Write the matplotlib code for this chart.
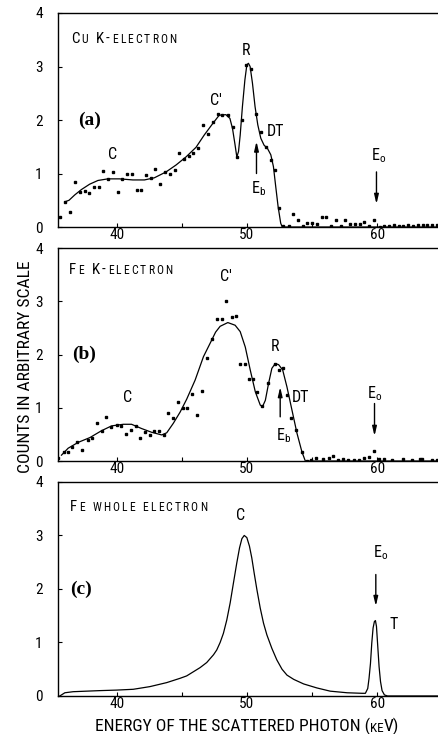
import numpy as np
import matplotlib
matplotlib.use("Agg")
import matplotlib.pyplot as plt

FONT = ["Roboto Condensed", "DejaVu Sans"]
plt.rcParams["font.family"] = FONT
plt.rcParams["mathtext.fontset"] = "custom"
plt.rcParams["mathtext.rm"] = "Roboto Condensed"
plt.rcParams["mathtext.it"] = "Roboto Condensed"

# ---- panel (a): Cu K-electron ----
a_curve_x = [36.02, 36.35, 36.79, 37.3, 37.93, 38.57, 39.33, 40.23, 41.25, 42.14, 42.9,
             43.8, 44.57, 45.33, 46.1, 46.73, 47.37, 47.88, 48.39, 48.7, 48.9, 49.08,
             49.23, 49.36, 49.49, 49.66, 49.85, 50.0, 50.12, 50.25, 50.43, 50.63, 50.84,
             51.07, 51.32, 51.58, 51.84, 52.04, 52.22, 52.4, 52.6, 52.72, 65.0]
a_curve_y = [0.47, 0.50, 0.60, 0.70, 0.80, 0.87, 0.90, 0.90, 0.88, 0.88, 0.92,
             1.03, 1.16, 1.31, 1.49, 1.72, 1.93, 2.09, 2.10, 2.03, 1.84, 1.56,
             1.31, 1.41, 1.72, 2.25, 2.75, 3.03, 3.06, 3.00, 2.69, 2.25, 1.91,
             1.66, 1.53, 1.47, 1.35, 1.13, 0.75, 0.38, 0.07, 0.0, 0.0]
a_pts_x = [35.64, 36.07, 36.46, 36.84, 37.22, 37.55, 37.88, 38.26, 38.62, 38.98, 39.36,
           39.72, 40.08, 40.44, 40.79, 41.15, 41.55, 41.91, 42.27, 42.62, 42.98, 43.37,
           43.73, 44.08, 44.46, 44.82, 45.18, 45.53, 45.89, 46.27, 46.66, 47.04, 47.4,
           47.8, 48.13, 48.52, 48.9, 49.28, 49.62, 49.92, 50.33, 50.73, 51.07, 51.45,
           51.84, 52.14, 52.47, 52.8, 53.2, 53.57, 53.93, 54.3, 54.64, 55.0, 55.36,
           55.74, 56.1, 56.45, 56.86, 57.23, 57.56, 57.95, 58.3, 58.65, 59.0, 59.37,
           59.79, 60.2, 60.55, 60.9, 61.3, 61.65, 62.0, 62.4, 62.75, 63.1, 63.5, 63.85,
           64.2, 64.6]
a_pts_y = [0.19, 0.47, 0.29, 0.85, 0.66, 0.68, 0.63, 0.74, 0.74, 1.05, 0.89,
           1.02, 0.66, 0.90, 1.00, 1.00, 0.69, 0.69, 0.97, 0.92, 1.08, 0.80,
           1.02, 0.99, 1.07, 1.38, 1.28, 1.33, 1.39, 1.48, 1.91, 1.74, 1.97,
           2.12, 2.09, 2.09, 1.87, 1.31, 2.00, 3.02, 2.95, 2.12, 1.78, 1.49,
           1.25, 1.07, 0.36, 0.02, 0.02, 0.24, 0.13, 0.02, 0.08, 0.08, 0.05,
           0.19, 0.18, 0.02, 0.13, 0.02, 0.13, 0.06, 0.06, 0.06, 0.10, 0.02,
           0.14, 0.0, 0.02, 0.01, 0.04, 0.02, 0.01, 0.03, 0.02, 0.03, 0.04, 0.04,
           0.03, 0.04]

# ---- panel (b): Fe K-electron ----
b_curve_x = [35.77, 36.28, 37.05, 37.95, 38.85, 39.62, 40.52, 41.15, 41.92, 42.69, 43.46,
             43.85, 44.36, 44.88, 45.38, 46.03, 46.67, 47.3, 47.6, 47.95, 48.54, 49.1,
             49.49, 49.88, 50.26, 50.65, 51.03, 51.2, 51.42, 51.67, 51.92, 52.18, 52.44,
             52.75, 53.08, 53.46, 53.85, 54.23, 54.49, 65.0]
b_curve_y = [0.11, 0.24, 0.35, 0.44, 0.57, 0.66, 0.69, 0.69, 0.61, 0.54, 0.49,
             0.53, 0.71, 0.92, 1.16, 1.52, 1.96, 2.27, 2.42, 2.53, 2.60, 2.55,
             2.43, 2.14, 1.71, 1.30, 1.05, 1.02, 1.14, 1.46, 1.74, 1.83, 1.81,
             1.71, 1.39, 0.96, 0.52, 0.17, 0.0, 0.0]
b_pts_x = [35.5, 36.0, 36.28, 36.6, 37.0, 37.36, 37.77, 38.15, 38.5, 38.9, 39.2, 39.6,
           40.0, 40.33, 40.7, 41.08, 41.46, 41.8, 42.18, 42.56, 42.9, 43.26, 43.64,
           43.97, 44.36, 44.74, 45.08, 45.44, 45.77, 46.15, 46.54, 46.92, 47.3, 47.7,
           48.06, 48.42, 48.85, 49.18, 49.49, 49.87, 50.2, 50.46, 50.8, 51.15, 51.6,
           52.13, 52.44, 52.77, 53.1, 53.42, 53.8, 54.23, 54.6, 54.95, 55.3, 55.85,
           56.3, 56.6, 57.0, 57.4, 57.8, 58.2, 58.6, 58.98, 59.37, 59.75, 60.13, 60.5,
           61.15, 61.97, 62.7, 63.3, 63.45, 64.2, 64.6]
b_pts_y = [0.05, 0.17, 0.17, 0.27, 0.36, 0.21, 0.39, 0.44, 0.71, 0.57, 0.82, 0.63,
           0.68, 0.66, 0.50, 0.58, 0.66, 0.44, 0.55, 0.49, 0.57, 0.57, 0.48,
           0.91, 0.80, 1.10, 0.99, 0.99, 1.26, 0.86, 1.32, 1.93, 2.30, 2.67,
           2.67, 3.00, 2.71, 2.73, 1.82, 1.82, 1.54, 1.54, 1.30, 1.04, 1.46,
           1.82, 1.71, 1.74, 1.24, 0.80, 0.59, 0.17, 0.0, 0.02, 0.05, 0.03,
           0.05, 0.10, 0.02, 0.03, 0.02, 0.01, 0.01, 0.05, 0.08, 0.19, 0.03, 0.03,
           0.02, 0.03, 0.02, 0.04, 0.04, 0.02, 0.02]

# ---- panel (c): Fe whole electron ----
c_curve_x = [35.64, 36.03, 36.67, 38.7, 40.0, 41.28, 42.56, 43.85, 44.87, 45.38, 46.41,
             46.92, 47.44, 47.69, 47.95, 48.2, 48.46, 48.72, 48.97, 49.23, 49.44, 49.62,
             49.8, 50.0, 50.2, 50.38, 50.56, 50.77, 51.03, 51.28, 51.54, 51.92, 52.3,
             52.7, 53.08, 53.6, 54.36, 55.38, 56.4, 57.7, 58.85, 59.1, 59.28, 59.38,
             59.49, 59.59, 59.69, 59.79, 59.87, 59.95, 60.05, 60.15, 60.26, 60.38, 60.56,
             60.8, 65.0]
c_curve_y = [0.0, 0.06, 0.08, 0.10, 0.11, 0.125, 0.175, 0.25, 0.33, 0.375, 0.53,
             0.625, 0.77, 0.86, 1.0, 1.17, 1.42, 1.74, 2.11, 2.49, 2.77, 2.94,
             3.0, 2.96, 2.80, 2.58, 2.30, 1.99, 1.64, 1.36, 1.14, 0.89, 0.675,
             0.50, 0.39, 0.31, 0.225, 0.15, 0.09, 0.06, 0.05, 0.05, 0.14, 0.33,
             0.61, 0.99, 1.27, 1.39, 1.41, 1.30, 0.925, 0.55, 0.27, 0.10, 0.02,
             0.0, 0.0]

x_ticks = [40, 45, 50, 55, 60]
x_ticklabels = ["40", "", "50", "", "60"]
y_ticks = [0, 1, 2, 3, 4]

fig = plt.figure(figsize=(4.39, 7.34), dpi=100)
L, W = 0.132, 0.868
ax_a = fig.add_axes([L, 0.6907, W, 0.2916])
ax_b = fig.add_axes([L, 0.3719, W, 0.2902])
ax_c = fig.add_axes([L, 0.0518, W, 0.2916])

TICK_FS = 11
LAB_FS = 11.5
BIG, SMALL = 10.8, 8.4


def style(ax):
    ax.set_xlim(35.5, 64.75)
    ax.set_ylim(0, 4)
    ax.set_xticks(x_ticks)
    ax.set_xticklabels(x_ticklabels)
    ax.set_yticks(y_ticks)
    ax.tick_params(direction="in", length=3, width=0.8, labelsize=TICK_FS, pad=1)
    ax.tick_params(axis="y", pad=11)
    ax.spines["right"].set_visible(False)
    for s in ["left", "bottom", "top"]:
        ax.spines[s].set_linewidth(1.0)


def smallcaps(ax, x, y, parts, gap=1.5, space=4.0):
    # parts: list of (text, fontsize); letters placed one by one, spaced out
    prev = None
    extra = 0.0
    for s, fs in parts:
        for ch in s:
            if ch == " ":
                extra += space
                continue
            if prev is None:
                prev = ax.text(x, y, ch, fontsize=fs, ha="left", va="bottom")
            else:
                prev = ax.annotate(ch, xy=(1, 0), xycoords=prev,
                                   xytext=(gap + extra, 0), textcoords="offset points",
                                   fontsize=fs, ha="left", va="bottom")
            extra = 0.0
    return prev


def arrow(ax, x, y0, y1):
    ax.annotate("", xy=(x, y1), xytext=(x, y0),
                arrowprops=dict(arrowstyle="-|>,head_width=0.13,head_length=0.55",
                                lw=1.0, color="black", shrinkA=0, shrinkB=0))


def panel_label(ax, x, y, s):
    ax.text(x, y, s, fontsize=14, fontweight="bold", ha="center", va="center",
            family=["Liberation Serif", "DejaVu Serif"])


for ax in (ax_a, ax_b, ax_c):
    style(ax)

# (a)
ax_a.plot(a_curve_x, a_curve_y, color="black", lw=0.9)
ax_a.plot(a_pts_x, a_pts_y, ls="none", marker="s", ms=1.7, color="black")
smallcaps(ax_a, 36.5, 3.38, [("C", BIG), ("U", SMALL), (" K-", BIG), ("ELECTRON", SMALL)])
panel_label(ax_a, 37.9, 2.0, "(a)")
ax_a.text(39.67, 1.35, "C", fontsize=LAB_FS, ha="center", va="center")
ax_a.text(47.6, 2.37, "C′", fontsize=LAB_FS, ha="center", va="center")
ax_a.text(49.97, 3.3, "R", fontsize=LAB_FS, ha="center", va="center")
ax_a.text(52.2, 1.78, "DT", fontsize=LAB_FS, ha="center", va="center")
ax_a.text(50.9, 0.72, r"E$_\mathrm{b}$", fontsize=LAB_FS, ha="center", va="center")
arrow(ax_a, 50.74, 1.0, 1.6)
ax_a.text(60.1, 1.33, r"E$_\mathrm{o}$", fontsize=LAB_FS, ha="center", va="center")
arrow(ax_a, 59.95, 1.03, 0.43)

# (b)
ax_b.plot(b_curve_x, b_curve_y, color="black", lw=0.9)
ax_b.plot(b_pts_x, b_pts_y, ls="none", marker="s", ms=1.7, color="black")
smallcaps(ax_b, 36.36, 3.45, [("F", BIG), ("E", SMALL), (" K-", BIG), ("ELECTRON", SMALL)])
panel_label(ax_b, 37.5, 2.0, "(b)")
ax_b.text(40.85, 1.2, "C", fontsize=LAB_FS, ha="center", va="center")
ax_b.text(48.4, 3.46, "C′", fontsize=LAB_FS, ha="center", va="center")
ax_b.text(52.13, 2.16, "R", fontsize=LAB_FS, ha="center", va="center")
ax_b.text(54.1, 1.2, "DT", fontsize=LAB_FS, ha="center", va="center")
ax_b.text(52.8, 0.48, r"E$_\mathrm{b}$", fontsize=LAB_FS, ha="center", va="center")
arrow(ax_b, 52.56, 0.83, 1.39)
ax_b.text(59.8, 1.26, r"E$_\mathrm{o}$", fontsize=LAB_FS, ha="center", va="center")
arrow(ax_b, 59.8, 1.08, 0.47)

# (c)
ax_c.plot(c_curve_x, c_curve_y, color="black", lw=0.9)
smallcaps(ax_c, 36.4, 3.4, [("F", BIG), ("E WHOLE ELECTRON", SMALL)])
panel_label(ax_c, 37.3, 1.99, "(c)")
ax_c.text(49.5, 3.38, "C", fontsize=LAB_FS, ha="center", va="center")
ax_c.text(60.25, 2.68, r"E$_\mathrm{o}$", fontsize=LAB_FS, ha="center", va="center")
arrow(ax_c, 59.9, 2.27, 1.68)
ax_c.text(61.3, 1.33, "T", fontsize=LAB_FS, ha="center", va="center")

# axis titles
fig.text(0.058, 0.501, "COUNTS IN ARBITRARY SCALE", rotation=90, fontsize=12.6,
         ha="center", va="center")
xl = fig.text(0.217, -0.002, "ENERGY OF THE SCATTERED PHOTON (", fontsize=12.6,
              ha="left", va="bottom")
t1 = ax_c.annotate("KE", xy=(1, 0), xycoords=xl, fontsize=9.5, ha="left", va="bottom")
ax_c.annotate("V)", xy=(1, 0), xycoords=t1, fontsize=12.6, ha="left", va="bottom")

fig.savefig("out.png", dpi=100)
